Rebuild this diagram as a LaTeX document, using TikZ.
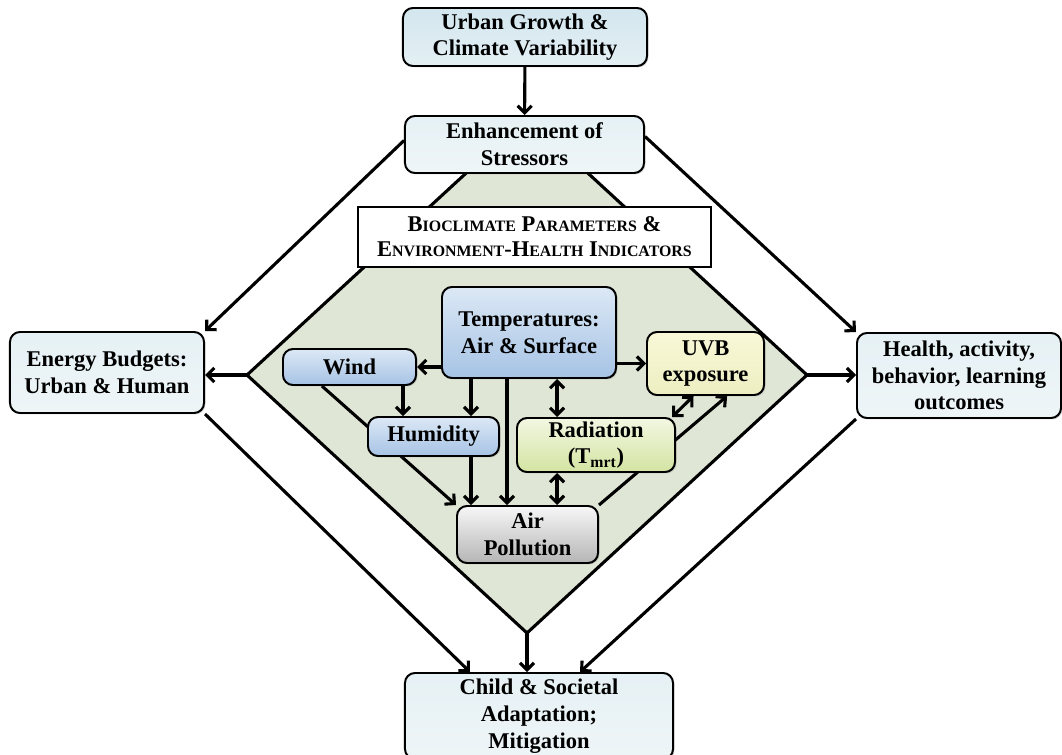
\documentclass[tikz,border=0pt]{standalone}
\usepackage{fontspec}
\setmainfont{Liberation Serif}
\usetikzlibrary{arrows.meta,calc,shadows}
\definecolor{growtop}{HTML}{D3E6EE}
\definecolor{growbot}{HTML}{E4F0F4}
\definecolor{paletop}{HTML}{E6F1F5}
\definecolor{palebot}{HTML}{EEF5F7}
\definecolor{bluetop}{HTML}{DCE8F5}
\definecolor{bluebot}{HTML}{A6C3E5}
\definecolor{uvbtop}{HTML}{F8F8D8}
\definecolor{uvbbot}{HTML}{EEEEC2}
\definecolor{radtop}{HTML}{F3F7E2}
\definecolor{radbot}{HTML}{D3E4A2}
\definecolor{airtop}{HTML}{F7F7F7}
\definecolor{airbot}{HTML}{B5B5B5}
\definecolor{leafbg}{HTML}{DFE6D6}
\newcommand\scword[2]{#1{\fontsize{11.3}{17.7}\selectfont #2}}
\pgfdeclarelayer{back}
\pgfsetlayers{back,main}

\begin{document}
\begin{tikzpicture}[x=0.025cm, y=-0.025cm,
    font=\fontsize{16}{19}\selectfont\bfseries,
    box/.style={draw, line width=1.4pt, rounded corners=0.25cm, align=center, inner sep=0pt,
      drop shadow={shadow xshift=1pt, shadow yshift=-1pt, opacity=0.3}},
    palebox/.style={box, top color=paletop, bottom color=palebot},
    bluebox/.style={box, top color=bluetop, bottom color=bluebot},
    edge/.style={line width=2.2pt},
    arr/.style={edge, -{Straight Barb[length=5pt,width=10pt]}},
    twoarr/.style={edge, {Straight Barb[length=5pt,width=10pt]}-{Straight Barb[length=5pt,width=10pt]}}]
  \useasboundingbox (0,0) rectangle (1062,754);
  \coordinate (dtop) at (527,117);
  \coordinate (dright) at (807,375);
  \coordinate (dbot) at (527,633);
  \coordinate (dleft) at (247,375);

  \node[palebox, top color=growtop, bottom color=growbot, minimum width=6.1cm, minimum height=1.45cm]
    (grow) at (525,37) {Urban Growth \&\\Climate Variability};
  \node[palebox, minimum width=5.975cm, minimum height=1.425cm] (stress) at (524.5,144.5)
    {Enhancement of\\Stressors};
  \node[draw, fill=white, line width=1.4pt, minimum width=8.825cm, minimum height=1.5cm, align=center,
    font=\fontsize{16}{17.7}\selectfont\bfseries] (bio) at (534.5,237)
    {\scword{B}{IOCLIMATE} \scword{P}{ARAMETERS} \&\\
     \scword{E}{NVIRONMENT}-\scword{H}{EALTH} \scword{I}{NDICATORS}};
  \node[palebox, minimum width=4.85cm, minimum height=2.025cm] (energy) at (107,372.5)
    {Energy Budgets:\\Urban \& Human};
  \node[palebox, minimum width=5.1cm, minimum height=2.125cm] (health) at (959,375.5)
    {Health, activity,\\behavior, learning\\outcomes};
  \node[bluebox, minimum width=4.35cm, minimum height=2.275cm] (temp) at (529,332.5)
    {Temperatures:\\Air \& Surface};
  \node[bluebox, minimum width=3.325cm, minimum height=0.9cm] (wind) at (349.5,367) {Wind};
  \node[bluebox, minimum width=3.275cm, minimum height=0.975cm] (humid) at (433.5,436.5) {Humidity};
  \node[box, top color=uvbtop, bottom color=uvbbot, minimum width=2.925cm, minimum height=1.575cm]
    (uvb) at (705.5,363.5) {UVB\\exposure};
  \node[box, top color=radtop, bottom color=radbot, minimum width=3.95cm, minimum height=1.35cm]
    (rad) at (596,445) {Radiation\\(T\textsubscript{mrt})};
  \node[box, top color=airtop, bottom color=airbot, minimum width=3.525cm, minimum height=1.425cm]
    (air) at (527.5,534.5) {Air\\Pollution};
  \node[palebox, minimum width=6.7cm, minimum height=2.15cm, font=\fontsize{16}{19}\selectfont\bfseries]
    (child) at (539,716) {Child \& Societal\\Adaptation;\\Mitigation};

  \begin{pgfonlayer}{back}
    \draw[edge, fill=leafbg] (dtop) -- (dright) -- (dbot) -- (dleft) -- cycle;
    \draw[arr] ([xshift=-0.69cm]wind.south) -- (air.north west);
    \draw[arr] (air.north east) -- ([xshift=0.54cm]uvb.south);
  \end{pgfonlayer}

  \draw[arr] (grow) -- (stress);
  \draw[arr] ([yshift=0.1cm]stress.west) -- (energy.north east);
  \draw[arr] ([yshift=0.2cm]stress.east) -- (health.north west);
  \draw[arr] (energy.south east) -- ([xshift=-1.725cm]child.north);
  \draw[arr] (health.south west) -- ([xshift=1.025cm]child.north);
  \draw[arr] (dbot) -- (dbot |- child.north);
  \draw[arr] (dleft) -- (dleft -| energy.east);
  \draw[arr] (dright) -- (dright -| health.west);

  \draw[arr] (wind.east -| temp.west) -- (wind.east);
  \draw[arr] (uvb.west -| temp.east) -- (uvb.west);
  \coordinate (wx) at ([xshift=-0.35cm]wind.south east);
  \draw[arr] (wx) -- (wx |- humid.north);
  \coordinate (hx) at ([xshift=0.75cm]temp.south west);
  \draw[arr] (hx) -- (hx |- humid.north);
  \draw[arr] (hx |- humid.south) -- (hx |- air.north);
  \coordinate (ax) at ([xshift=-0.55cm]temp.south);
  \draw[arr] (ax) -- (ax |- air.north);
  \coordinate (rx) at ([xshift=0.7cm]temp.south);
  \draw[twoarr] (rx) -- (rx |- rad.north);
  \draw[twoarr] (rx |- rad.south) -- (rx |- air.north);
  \draw[twoarr] ([xshift=-0.1cm]rad.north east) -- ([xshift=-0.3cm]uvb.south);
\end{tikzpicture}
\end{document}
